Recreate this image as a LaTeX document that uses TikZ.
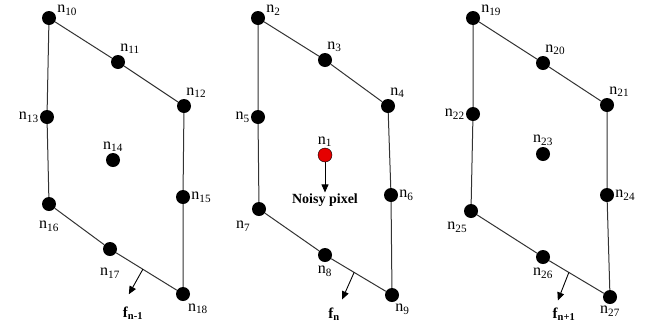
\documentclass[tikz,border=0pt]{standalone}
\usepackage{fontspec}
\setmainfont{Liberation Serif}
\usetikzlibrary{arrows.meta}
\tikzset{
	diem/.style={circle,fill=black,inner sep=0pt,minimum size=14pt},
	diemdo/.style={circle,draw=black,fill=red!90!black,inner sep=0pt,minimum size=14pt},
	nhan/.style={font=\fontsize{16}{18}\selectfont,inner sep=1pt},
	nhanf/.style={font=\fontsize{15}{17}\selectfont\bfseries,inner sep=1pt},
	canh/.style={line width=1pt,black!80},
	muiten/.style={line width=0.9pt,-{Triangle[length=8pt,width=7pt]}}
}
\newcommand{\nn}[1]{n\textsubscript{#1}}
\begin{document}
\begin{tikzpicture}[x=1pt,y=-1pt,line join=round]
		\useasboundingbox (0,0) rectangle (645,322);
		%==Khung f_{n-1}
		\node[diem,label={[nhan]10:\nn{10}}] (n10) at (49,18) {};
		\node[diem,label={[nhan]80:\nn{11}}] (n11) at (118,62) {};
		\node[diem,label={[nhan]80:\nn{12}}] (n12) at (184,106) {};
		\node[diem,label={[nhan]left:\nn{13}}] (n13) at (47,117) {};
		\node[diem,label={[nhan]above:\nn{14}}] (n14) at (113,160) {};
		\node[diem,label={[nhan]right:\nn{15}}] (n15) at (183,197) {};
		\node[diem,label={[nhan,label distance=9pt]below:\nn{16}}] (n16) at (49,204) {};
		\node[diem,label={[nhan,label distance=11pt]below:\nn{17}}] (n17) at (110,249) {};
		\node[diem,label={[nhan,label distance=2pt]-65:\nn{18}}] (n18) at (183,294) {};
		\draw[canh] (n10)--(n11)--(n12)--(n15)--(n18)--(n17)--(n16)--(n13)--(n10);
		\path (n17)--(n18) coordinate[pos=0.44](M1);
		\path (M1)++(-14,25) coordinate(T1);
		\node[nhanf] (f1) at (133,313) {f\textsubscript{n-1}};
		\draw[muiten] (M1)--(T1);
		%==Khung f_{n}
		\node[diem,label={[nhan]10:\nn{2}}] (n2) at (258,18) {};
		\node[diem,label={[nhan]80:\nn{3}}] (n3) at (325,60) {};
		\node[diem,label={[nhan]80:\nn{4}}] (n4) at (388,106) {};
		\node[diem,label={[nhan]left:\nn{5}}] (n5) at (258,117) {};
		\node[diemdo,label={[nhan]above:\nn{1}}] (n1) at (325,155) {};
		\node[diem,label={[nhan]right:\nn{6}}] (n6) at (391,195) {};
		\node[diem,label={[nhan,label distance=6pt]-125:\nn{7}}] (n7) at (259,209) {};
		\node[diem,label={[nhan,label distance=3pt]below:\nn{8}}] (n8) at (325,255) {};
		\node[diem,label={[nhan,label distance=1pt]-75:\nn{9}}] (n9) at (392,295) {};
		\draw[canh] (n2)--(n3)--(n4)--(n6)--(n9)--(n8)--(n7)--(n5)--(n2);
		\node[nhanf,font=\fontsize{14}{16}\selectfont\bfseries] (nhieu) at (325,200) {Noisy pixel};
		\draw[muiten] (n1)--(nhieu.north);
		\path (n8)--(n9) coordinate[pos=0.42](M2);
		\path (M2)++(-12,27) coordinate(T2);
		\node[nhanf] (f2) at (334,314) {f\textsubscript{n}};
		\draw[muiten] (M2)--(T2);
		%==Khung f_{n+1}
		\node[diem,label={[nhan]10:\nn{19}}] (n19) at (473,18) {};
		\node[diem,label={[nhan]80:\nn{20}}] (n20) at (543,63) {};
		\node[diem,label={[nhan]80:\nn{21}}] (n21) at (607,105) {};
		\node[diem,label={[nhan]left:\nn{22}}] (n22) at (473,114) {};
		\node[diem,label={[nhan]above:\nn{23}}] (n23) at (543,154) {};
		\node[diem,label={[nhan]right:\nn{24}}] (n24) at (607,195) {};
		\node[diem,label={[nhan,label distance=3pt]-105:\nn{25}}] (n25) at (471,211) {};
		\node[diem,label={[nhan,label distance=3pt]below:\nn{26}}] (n26) at (543,257) {};
		\node[diem,label={[nhan,label distance=1pt]below:\nn{27}}] (n27) at (610,297) {};
		\draw[canh] (n19)--(n20)--(n21)--(n24)--(n27)--(n26)--(n25)--(n22)--(n19);
		\path (n26)--(n27) coordinate[pos=0.36](M3);
		\path (M3)++(-11,28) coordinate(T3);
		\node[nhanf] (f3) at (564,314) {f\textsubscript{n+1}};
		\draw[muiten] (M3)--(T3);
\end{tikzpicture}
\end{document}
